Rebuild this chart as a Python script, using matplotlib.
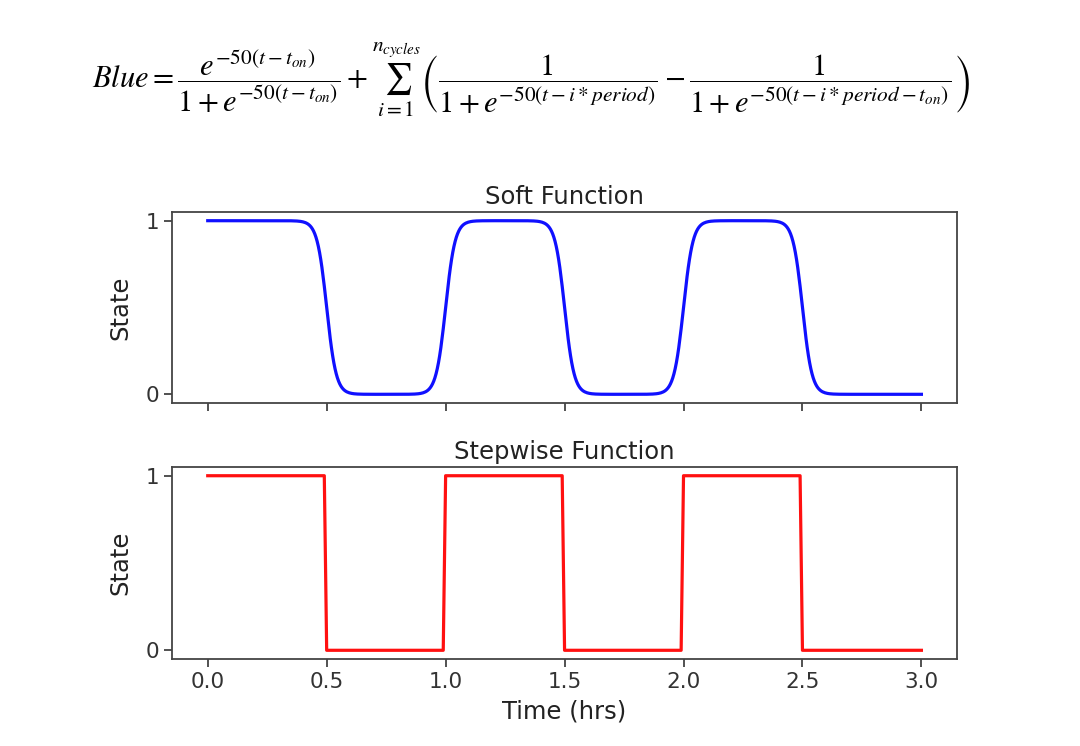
import numpy as np
import matplotlib.pyplot as plt

# switching pattern
edge_times = [0.5, 1.0, 1.5, 2.0, 2.5]
edge_dirs = [-1, 1, -1, 1, -1]
steepness = 50
t_start, t_end = 0.0, 3.0

# stepwise function as drawn (sampled every 0.01 hrs)
step_t = [0.0, 0.49, 0.50, 0.99, 1.00, 1.49, 1.50, 1.99, 2.00, 2.49, 2.50, 3.0]
step_state = [1, 1, 0, 0, 1, 1, 0, 0, 1, 1, 0, 0]

xticks = [0.0, 0.5, 1.0, 1.5, 2.0, 2.5, 3.0]

t = np.linspace(t_start, t_end, 601)
soft = np.ones_like(t)
for e, d in zip(edge_times, edge_dirs):
    soft += d / (1 + np.exp(-steepness * (t - e)))

plt.rcParams['font.family'] = ['DejaVu Sans']
fig = plt.figure(figsize=(10.8, 7.46), dpi=100)

eq = (r'$Blue=\dfrac{e^{-50(t-t_{on})}}{1+e^{-50(t-t_{on})}}+'
      r'\sum_{i=1}^{n_{cycles}}\left(\dfrac{1}{1+e^{-50(t-i*period)}}-'
      r'\dfrac{1}{1+e^{-50(t-i*period-t_{on})}}\right)$')
fig.text(0.492, 0.893, eq, fontsize=22, math_fontfamily='stix',
         ha='center', va='center')

ax1 = fig.add_axes([0.1593, 0.4598, 0.7269, 0.2560])
ax2 = fig.add_axes([0.1593, 0.1166, 0.7269, 0.2574], sharex=ax1)

ax1.plot(t, soft, color='#1010ff', lw=2.3)
ax2.plot(step_t, step_state, color='#ff1010', lw=2.3)

ax1.set_title('Soft Function', fontsize=17.5, color='#222222')
ax2.set_title('Stepwise Function', fontsize=17.5, color='#222222')
for ax in (ax1, ax2):
    ax.set_yticks([0, 1])
    ax.set_ylabel('State', fontsize=17.5, color='#222222', labelpad=9.5)
    ax.tick_params(labelsize=15.5, colors='#333333', length=6, width=1.2)
    for s in ax.spines.values():
        s.set_color('#444444')
        s.set_linewidth(1.3)
ax2.set_xticks(xticks)
ax2.set_xticklabels([f'{x:.1f}' for x in xticks])
plt.setp(ax1.get_xticklabels(), visible=False)
ax2.set_xlabel('Time (hrs)', fontsize=17.5, color='#222222', labelpad=5.5)

fig.savefig('out.png', dpi=100)
